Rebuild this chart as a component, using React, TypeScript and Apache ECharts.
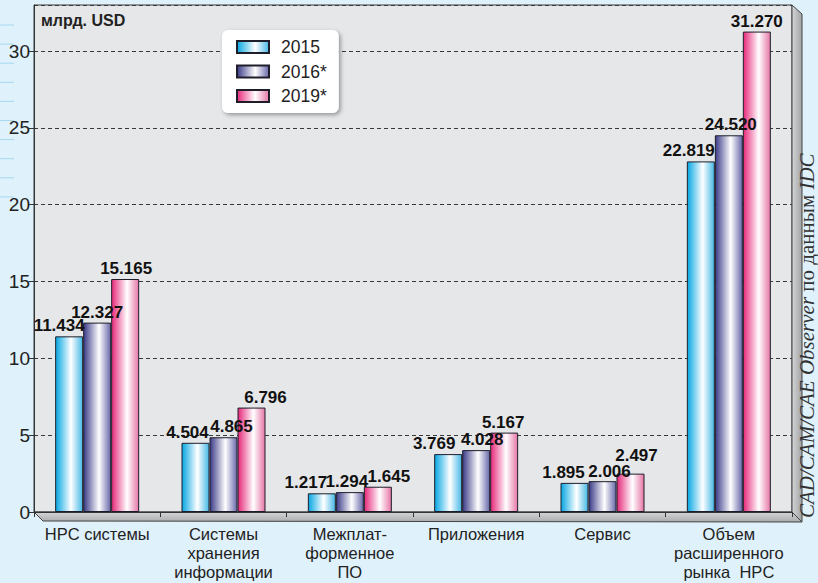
import React, { useEffect, useRef } from "react";
import * as echarts from "echarts";

const categories = [
  "HPC системы",
  "Системы\nхранения\nинформации",
  "Межплат-\nформенное\nПО",
  "Приложения",
  "Сервис",
  "Объем\nрасширенного\nрынка  HPC",
];
const seriesNames = ["2015", "2016*", "2019*"];
const values2015 = [11.434, 4.504, 1.217, 3.769, 1.895, 22.819];
const values2016 = [12.327, 4.865, 1.294, 4.028, 2.006, 24.52];
const values2019 = [15.165, 6.796, 1.645, 5.167, 2.497, 31.27];
const yTicks = [0, 5, 10, 15, 20, 25, 30];

// label nudges (styling only), as in the original layout
const labelDx = [
  [-10, -8, -16, -14, -11, -12],
  [0, 8, -3, 6, 7, 2],
  [1, 14, 11, -1, 6, 0],
];
const labelDy = [
  [0, 0, 0, 0, 0, 0],
  [0, 0, 0, 0, 1, 0],
  [0, 0, 0, 0, -8, 0],
];

const SANS = "'Liberation Sans', Arial, sans-serif";

function grad(c0: string, c1: string, c2: string) {
  return new echarts.graphic.LinearGradient(0, 0, 1, 0, [
    { offset: 0, color: c0 },
    { offset: 0.57, color: c1 },
    { offset: 1, color: c2 },
  ]);
}

export default function App() {
  const ref = useRef<HTMLDivElement>(null);
  useEffect(() => {
    if (!ref.current) return;
    const chart = echarts.init(ref.current, null, { renderer: "svg" });
    const colors = [
      grad("#05a6e3", "#ffffff", "#45b8e6"),
      grad("#3a3a88", "#ffffff", "#6868aa"),
      grad("#e6287a", "#ffffff", "#e676a6"),
    ];
    const data = [values2015, values2016, values2019];
    const leftLines = [];
    for (let i = 0; i < 10; i++) {
      const y = 25 + i * 19.1;
      leftLines.push({
        type: "line",
        shape: { x1: 0, y1: y, x2: 14, y2: y },
        style: { stroke: "#a6d8ef", lineWidth: 1 },
        z: 0,
      });
    }
    chart.setOption({
      animation: false,
      backgroundColor: "#dff1fb",
      textStyle: { fontFamily: SANS },
      grid: {
        left: 34,
        right: 26,
        top: 5,
        bottom: 71,
        show: true,
        backgroundColor: "#e6e7e9",
        borderColor: "#3a3a3a",
        borderWidth: 1,
      },
      legend: {
        data: seriesNames,
        orient: "vertical",
        left: 222,
        top: 30,
        padding: [8, 12, 8, 14],
        itemWidth: 32,
        itemHeight: 12,
        itemGap: 6.5,
        icon: "rect",
        backgroundColor: "#ffffff",
        borderRadius: 6,
        shadowBlur: 4,
        shadowColor: "rgba(0,0,0,0.35)",
        shadowOffsetX: 2,
        shadowOffsetY: 2,
        textStyle: {
          fontSize: 17.5,
          lineHeight: 18,
          color: "#222",
          fontFamily: SANS,
          padding: [0, 0, 0, 7],
        },
      },
      title: {
        text: "млрд. USD",
        left: 41,
        top: 12,
        padding: 0,
        textStyle: { fontSize: 16, fontWeight: "bold", color: "#222", fontFamily: SANS },
      },
      xAxis: {
        type: "category",
        data: categories,
        z: 10,
        axisLine: { show: true, lineStyle: { color: "#333", width: 1 } },
        axisTick: { show: true, length: 5, lineStyle: { color: "#333" } },
        axisLabel: {
          interval: 0,
          fontSize: 16.5,
          lineHeight: 19,
          color: "#222",
          margin: 12,
          fontFamily: SANS,
        },
        splitLine: { show: false },
      },
      yAxis: {
        type: "value",
        min: 0,
        max: 33,
        interval: 5,
        axisLine: { show: true, lineStyle: { color: "#333", width: 1 } },
        axisTick: { show: true, length: 5, lineStyle: { color: "#333" } },
        axisLabel: {
          fontSize: 19,
          color: "#222",
          margin: 4,
          fontFamily: SANS,
          showMaxLabel: false,
          formatter: (v: number) => (yTicks.indexOf(v) >= 0 ? String(v) : ""),
        },
        splitLine: {
          show: true,
          lineStyle: { color: "#3a3a3a", type: [4, 3], width: 1 },
        },
      },
      series: seriesNames.map((name, i) => ({
        name,
        type: "bar",
        data: data[i].map((v, j) => ({
          value: v,
          label: { offset: [labelDx[i][j], labelDy[i][j]] },
        })),
        barWidth: 28,
        barGap: "0%",
        z: 5,
        itemStyle: { color: colors[i], borderColor: "#1e1e2a", borderWidth: 1 },
        label: {
          show: true,
          position: "top",
          distance: 2,
          fontSize: 17,
          fontWeight: "bold",
          color: "#111",
          fontFamily: SANS,
          formatter: (p: any) => Number(p.value).toFixed(3),
        },
      })),
      graphic: [
        ...leftLines,
        {
          type: "polygon",
          z: 2,
          shape: { points: [[34, 512], [792, 512], [802, 522], [43, 521]] },
          style: {
            fill: new echarts.graphic.LinearGradient(0, 0, 0, 1, [
              { offset: 0, color: "#d6d7d9" },
              { offset: 1, color: "#a9aaac" },
            ]),
            stroke: "#444",
            lineWidth: 1,
          },
        },
        {
          type: "polygon",
          z: 2,
          shape: { points: [[792, 5], [802, 14], [802, 522], [792, 512]] },
          style: {
            fill: new echarts.graphic.LinearGradient(0, 0, 1, 0, [
              { offset: 0, color: "#d4d5d7" },
              { offset: 1, color: "#a2a3a5" },
            ]),
            stroke: "#444",
            lineWidth: 1,
          },
        },
        {
          type: "text",
          z: 3,
          x: 817,
          y: 518,
          rotation: Math.PI / 2,
          style: {
            text: "{i|CAD/CAM/CAE Observer} {n|по данным} {i|IDC}",
            fontFamily: "'Liberation Serif', 'DejaVu Serif', serif",
            fontSize: 21,
            fill: "#333",
            align: "left",
            verticalAlign: "bottom",
            rich: {
              i: { fontStyle: "italic", fontSize: 21, fontFamily: "'Liberation Serif', serif", fill: "#333" },
              n: { fontStyle: "normal", fontSize: 21, fontFamily: "'Liberation Serif', serif", fill: "#333" },
            },
          },
        },
      ],
    });
    return () => chart.dispose();
  }, []);
  return (
    <div
      ref={ref}
      style={{ position: "fixed", left: 0, top: 0, width: 818, height: 583 }}
    />
  );
}
